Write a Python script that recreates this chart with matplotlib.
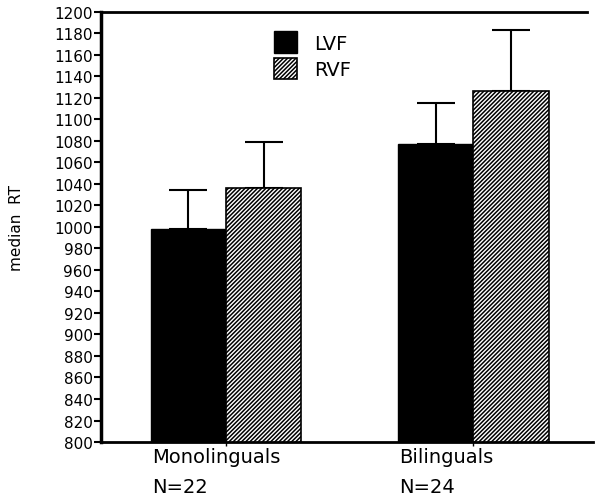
import matplotlib
matplotlib.use('Agg')
import matplotlib.pyplot as plt
import numpy as np

groups = ['Monolinguals\nN=22', 'Bilinguals\nN=24']
lvf = [998, 1077]
rvf = [1036, 1126]
lvf_err = [36, 38]
rvf_err = [43, 57]
yticks = list(range(800, 1201, 20))

plt.rcParams['hatch.linewidth'] = 1.1
plt.rcParams['font.family'] = 'DejaVu Sans'

fig = plt.figure(figsize=(5.97, 5.02), dpi=100)
ax = fig.add_axes([0.169, 0.1175, 0.825, 0.857])

x = np.arange(len(groups))
width = 0.305

ax.bar(x - width / 2, lvf, width, color='black', edgecolor='black',
       linewidth=1, label='LVF', zorder=2)
ax.bar(x + width / 2, rvf, width, color='white', edgecolor='black',
       hatch='////////', linewidth=1.2, label='RVF', zorder=2)

# error bars only going up
ax.errorbar(x - width / 2, lvf, yerr=[np.zeros(2), lvf_err], fmt='none',
            ecolor='black', elinewidth=1.5, capsize=14, capthick=1.5, zorder=1)
ax.errorbar(x + width / 2, rvf, yerr=[np.zeros(2), rvf_err], fmt='none',
            ecolor='black', elinewidth=1.5, capsize=14, capthick=1.5, zorder=1)

ax.set_ylim(800, 1200)
ax.set_xlim(-0.506, 1.486)
ax.set_yticks(yticks)
ax.set_yticklabels([str(t) for t in yticks], fontsize=11)
ax.tick_params(axis='y', direction='out', length=5, width=1.5, pad=1)

ax.set_xticks(x)
ax.set_xticklabels([])
ax.tick_params(axis='x', direction='out', length=3, width=1)
for xi, lab in zip(x, groups):
    ax.text(xi - width + 0.005, 795, lab, ha='left', va='top', fontsize=14,
            linespacing=1.7, transform=ax.transData)

ax.spines['right'].set_visible(False)
ax.spines['left'].set_linewidth(2.5)
ax.spines['bottom'].set_linewidth(2)
ax.spines['top'].set_linewidth(2)
ax.spines['top'].set_bounds(-0.506, 1.46)

fig.text(0.027, 0.545, 'median  RT', rotation=90, ha='center', va='center', fontsize=11)

leg = ax.legend(loc='upper left', bbox_to_anchor=(0.315, 0.995), frameon=False,
                fontsize=14, handlelength=1.2, handleheight=1.3, handletextpad=0.9,
                labelspacing=0.25)

fig.savefig('out.png', dpi=100)
